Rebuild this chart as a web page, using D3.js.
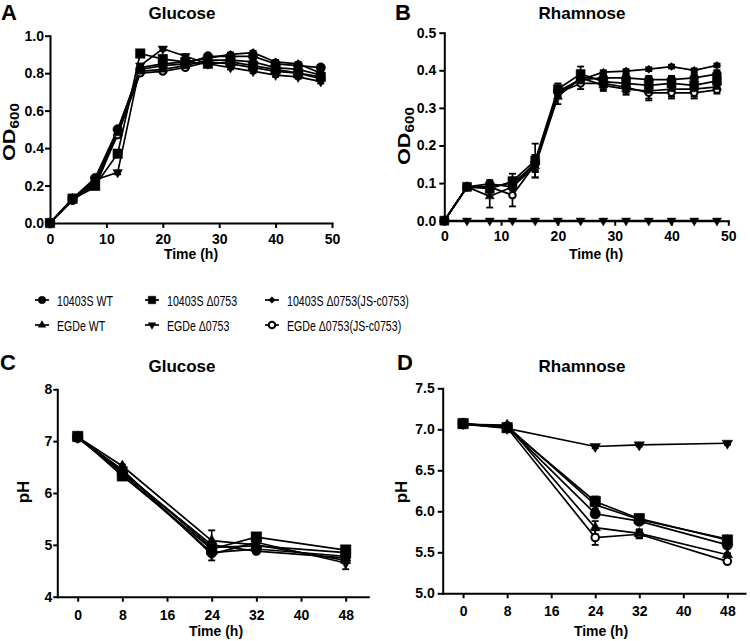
<!DOCTYPE html>
<html><head><meta charset="utf-8">
<script src="https://cdn.jsdelivr.net/npm/d3@7"></script>
<style>body{margin:0;background:#fff} svg{display:block} text{font-family:Arial,'Liberation Sans',sans-serif}</style>
</head><body><svg id="c" width="750" height="641"></svg>
<script>
// ---------- DATA ----------
const seriesNames = ["10403S WT","10403S \u03940753","10403S \u03940753(JS-c0753)","EGDe WT","EGDe \u03940753","EGDe \u03940753(JS-c0753)"];
const seriesSymbols = ["circle","square","diamond","triangleUp","triangleDown","openCircle"];

const odTimes = [0,4,8,12,16,20,24,28,32,36,40,44,48];
const phTimes = [0,8,24,32,48];
const odXTicks = [0,10,20,30,40,50];
const phXTicks = [0,8,16,24,32,40,48];
const odGlucoseYTicks = [0,0.2,0.4,0.6,0.8,1.0];
const odRhamnoseYTicks = [0,0.1,0.2,0.3,0.4,0.5];
const phGlucoseYTicks = [4,5,6,7,8];
const phRhamnoseYTicks = [5.0,5.5,6.0,6.5,7.0,7.5];

// rows follow seriesNames order
const odGlucose = [
  [0,0.13,0.24,0.50,0.82,0.84,0.85,0.89,0.89,0.89,0.85,0.84,0.83],
  [0,0.13,0.20,0.37,0.905,0.875,0.86,0.85,0.86,0.84,0.82,0.80,0.78],
  [0,0.125,0.22,0.49,0.83,0.85,0.86,0.88,0.90,0.91,0.86,0.85,0.80],
  [0,0.13,0.19,0.48,0.81,0.82,0.84,0.87,0.87,0.86,0.83,0.82,0.79],
  [0,0.125,0.23,0.27,0.84,0.93,0.89,0.85,0.83,0.81,0.79,0.78,0.755],
  [0,0.12,0.21,0.47,0.80,0.81,0.83,0.86,0.85,0.83,0.81,0.80,0.77]
];
const odGlucoseErr = [
  [0,0.005,0.01,0.01,0.01,0.01,0.01,0.01,0.01,0.01,0.01,0.01,0.01],
  [0,0.005,0.01,0.01,0.01,0.02,0.01,0.01,0.01,0.01,0.01,0.01,0.01],
  [0,0.005,0.01,0.01,0.01,0.01,0.01,0.01,0.01,0.01,0.01,0.01,0.01],
  [0,0.005,0.01,0.01,0.01,0.02,0.01,0.01,0.01,0.01,0.01,0.01,0.01],
  [0,0.005,0.01,0.01,0.01,0.01,0.01,0.01,0.01,0.01,0.01,0.01,0.01],
  [0,0.005,0.01,0.01,0.01,0.01,0.01,0.01,0.01,0.01,0.01,0.01,0.01]
];
const odRhamnose = [
  [0,0.09,0.098,0.09,0.155,0.345,0.375,0.38,0.38,0.375,0.375,0.38,0.39],
  [0,0.09,0.085,0.105,0.16,0.35,0.39,0.37,0.365,0.36,0.365,0.36,0.372],
  [0,0.088,0.09,0.10,0.15,0.34,0.375,0.395,0.398,0.403,0.41,0.40,0.413],
  [0,0.09,0.065,0.09,0.145,0.33,0.38,0.36,0.35,0.345,0.35,0.35,0.356],
  [0,0,0,0,0,0,0,0,0,0,0,0,0],
  [0,0.09,0.09,0.068,0.15,0.34,0.365,0.365,0.355,0.34,0.34,0.34,0.348]
];
const odRhamnoseErr = [
  [0,0.005,0.01,0.01,0.02,0.01,0.01,0.01,0.01,0.01,0.01,0.01,0.01],
  [0,0.005,0.01,0.02,0.045,0.015,0.02,0.015,0.02,0.02,0.02,0.02,0.01],
  [0,0.005,0.01,0.015,0.02,0.01,0.01,0.005,0.005,0.005,0.005,0.005,0.005],
  [0,0.005,0.03,0.02,0.03,0.02,0.015,0.015,0.015,0.025,0.02,0.02,0.01],
  [0,0,0,0,0,0,0,0,0,0,0,0,0],
  [0,0.005,0.01,0.03,0.02,0.015,0.015,0.015,0.015,0.015,0.015,0.015,0.01]
];
const phGlucose = [
  [7.08,6.38,4.85,4.92,4.78],
  [7.09,6.33,4.92,5.15,4.90],
  [7.07,6.42,4.95,4.98,4.85],
  [7.08,6.52,5.08,5.00,4.70],
  [7.07,6.45,4.82,5.05,4.65],
  [7.06,6.40,5.00,4.88,4.75]
];
const phGlucoseErr = [
  [0.02,0.03,0.05,0.04,0.04],
  [0.02,0.03,0.05,0.08,0.04],
  [0.02,0.03,0.05,0.04,0.04],
  [0.02,0.03,0.20,0.04,0.05],
  [0.02,0.03,0.12,0.04,0.12],
  [0.02,0.03,0.05,0.04,0.04]
];
const phRhamnose = [
  [7.07,7.03,5.97,5.88,5.59],
  [7.07,7.02,6.12,5.91,5.65],
  [7.06,7.04,6.08,5.90,5.66],
  [7.06,7.05,5.80,5.73,5.47],
  [7.07,7.01,6.79,6.81,6.83],
  [7.06,7.02,5.68,5.72,5.39]
];
const phRhamnoseErr = [
  [0.01,0.01,0.04,0.04,0.02],
  [0.01,0.01,0.06,0.05,0.02],
  [0.01,0.01,0.05,0.05,0.02],
  [0.01,0.01,0.08,0.05,0.02],
  [0.01,0.01,0.02,0.02,0.02],
  [0.01,0.01,0.09,0.05,0.02]
];

// ---------- DRAWING ----------
const svg = d3.select("#c");

function markerPath(type, s){
  if(type==="circle"||type==="openCircle") return d3.symbol(d3.symbolCircle, Math.PI*s*s/4)();
  if(type==="square") return `M${-s/2},${-s/2}h${s}v${s}h${-s}Z`;
  if(type==="diamond"){const r=s*0.55;return `M0,${-r}L${r},0L0,${r}L${-r},0Z`;}
  const h=s*Math.sqrt(3)/2;
  if(type==="triangleUp") return `M0,${-h*2/3}L${s/2},${h/3}L${-s/2},${h/3}Z`;
  return `M0,${h*2/3}L${s/2},${-h/3}L${-s/2},${-h/3}Z`;
}
function drawMarker(g, type, x, y, s){
  const open = type==="openCircle";
  g.append("path").attr("d", markerPath(type, open? s*0.72 : s))
    .attr("transform",`translate(${x},${y})`)
    .attr("fill", open? "#fff":"#000")
    .attr("stroke","#000").attr("stroke-width", open?2:0.5);
}

const panels = [
  {letter:"A", lx:1, ly:20, title:"Glucose", tx:182, ty:19, yl:"OD", ys:"600", ylx:15, yly:132,
   xd:[0,50], xr:[50,332], yd:[0,1], yr:[223,35.7], xt:odXTicks, yt:odGlucoseYTicks, yf:d3.format(".1f"),
   ytick:5, ypad:1, xpad:6, xlabX:191, xlabY:258.5, times:odTimes, data:odGlucose, err:odGlucoseErr, ms:9.5},
  {letter:"B", lx:395, ly:20, title:"Rhamnose", tx:582, ty:19, yl:"OD", ys:"600", ylx:410, yly:136,
   xd:[0,50], xr:[444.3,728.3], yd:[0,0.5], yr:[220.7,32.7], xt:odXTicks, yt:odRhamnoseYTicks, yf:d3.format(".1f"),
   ytick:5, ypad:3, xpad:5, xlabX:596, xlabY:258.5, times:odTimes, data:odRhamnose, err:odRhamnoseErr, ms:9},
  {letter:"C", lx:0, ly:370, title:"Glucose", tx:182, ty:372, yl:"pH", ys:"", ylx:29, yly:492,
   xd:[-3.65,52.05], xr:[57.3,368.3], yd:[4,8], yr:[596.7,389.3], xt:phXTicks, yt:phGlucoseYTicks, yf:d3.format("d"),
   ytick:4, ypad:1, xpad:8, xlabX:216, xlabY:636, times:phTimes, data:phGlucose, err:phGlucoseErr, ms:10.5},
  {letter:"D", lx:397, ly:370, title:"Rhamnose", tx:582, ty:372, yl:"pH", ys:"", ylx:407, yly:492,
   xd:[-3.7,51.2], xr:[442.7,745], yd:[5,7.5], yr:[593.3,388.3], xt:phXTicks, yt:phRhamnoseYTicks, yf:d3.format(".1f"),
   ytick:5, ypad:3, xpad:8, xlabX:601, xlabY:636, times:phTimes, data:phRhamnose, err:phRhamnoseErr, ms:10.5}
];

// markers drawn with open circles first so solid symbols sit on top
const markerOrder = [5,0,1,2,3,4];

panels.forEach(p=>{
  const x = d3.scaleLinear().domain(p.xd).range(p.xr);
  const y = d3.scaleLinear().domain(p.yd).range(p.yr);
  const g = svg.append("g");

  // axes
  const xa = g.append("g").attr("transform",`translate(0,${p.yr[0]})`)
    .call(d3.axisBottom(x).tickValues(p.xt).tickFormat(d3.format("d")).tickSize(5).tickSizeOuter(0).tickPadding(p.xpad));
  const ya = g.append("g").attr("transform",`translate(${p.xr[0]},0)`)
    .call(d3.axisLeft(y).tickValues(p.yt).tickFormat(p.yf).tickSize(p.ytick).tickSizeOuter(0).tickPadding(p.ypad));
  [xa,ya].forEach(a=>{
    a.select(".domain").attr("stroke","#000").attr("stroke-width",2).attr("stroke-linecap","square");
    a.selectAll(".tick line").attr("stroke","#000").attr("stroke-width",2);
    a.selectAll(".tick text").attr("fill","#000").attr("font-size",14).attr("font-weight","bold")
      .attr("font-family","Arial,'Liberation Sans',sans-serif");
  });

  // lines
  const line = d3.line().x((d,i)=>x(p.times[i])).y(d=>y(d));
  p.data.forEach(row=>{
    g.append("path").attr("d",line(row)).attr("fill","none").attr("stroke","#000").attr("stroke-width",1.7);
  });
  // error bars
  p.data.forEach((row,si)=>{
    row.forEach((v,i)=>{
      const e = p.err[si][i]; if(!e) return;
      const cx = x(p.times[i]), y1=y(v+e), y2=y(v-e);
      g.append("line").attr("x1",cx).attr("x2",cx).attr("y1",y1).attr("y2",y2).attr("stroke","#000").attr("stroke-width",1.7);
      [y1,y2].forEach(yy=>g.append("line").attr("x1",cx-3.5).attr("x2",cx+3.5).attr("y1",yy).attr("y2",yy).attr("stroke","#000").attr("stroke-width",1.8));
    });
  });
  // markers
  markerOrder.forEach(si=>{
    p.data[si].forEach((v,i)=>drawMarker(g, seriesSymbols[si], x(p.times[i]), y(v), seriesSymbols[si]==="diamond"? p.ms*0.8 : p.ms));
  });

  // labels
  g.append("text").attr("x",p.lx).attr("y",p.ly).attr("font-size",22).attr("font-weight","bold").text(p.letter);
  g.append("text").attr("x",p.tx).attr("y",p.ty).attr("text-anchor","middle").attr("font-size",17).attr("font-weight","bold").text(p.title);
  g.append("text").attr("x",p.xlabX).attr("y",p.xlabY)
    .attr("text-anchor","middle").attr("font-size",14).attr("font-weight","bold").text("Time (h)");
  const yg = g.append("g").attr("transform",`translate(${p.ylx},${p.yly}) rotate(-90)`);
  const yl = yg.append("text").attr("text-anchor","middle").attr("font-size",17).attr("font-weight","bold");
  yl.append("tspan").text(p.yl);
  if(p.ys){
    yl.append("tspan").attr("font-size",12).attr("dy","0.3em").text(p.ys);
    const len = yl.node().getComputedTextLength();
    yl.attr("transform",`scale(${58/len},1)`);
  }
});

// legend
const legX = [42,152,272];
const legY = [300,325];
const lg = svg.append("g");
const probe = svg.append("text").attr("font-size",15).text("10403S WT");
const sc = 56/probe.node().getComputedTextLength();
probe.remove();
seriesNames.forEach((name,i)=>{
  const col = i%3, row = Math.floor(i/3);
  const cx = legX[col], cy = legY[row];
  lg.append("line").attr("x1",cx-7).attr("x2",cx+7).attr("y1",cy).attr("y2",cy).attr("stroke","#000").attr("stroke-width",1.7);
  drawMarker(lg, seriesSymbols[i], cx, cy, seriesSymbols[i]==="diamond"?6:(seriesSymbols[i]==="openCircle"?9:7.5));
  lg.append("text").attr("transform",`translate(${cx+15},${cy+5.5}) scale(${sc},1)`).attr("font-size",15).text(name);
});
</script></body></html>
